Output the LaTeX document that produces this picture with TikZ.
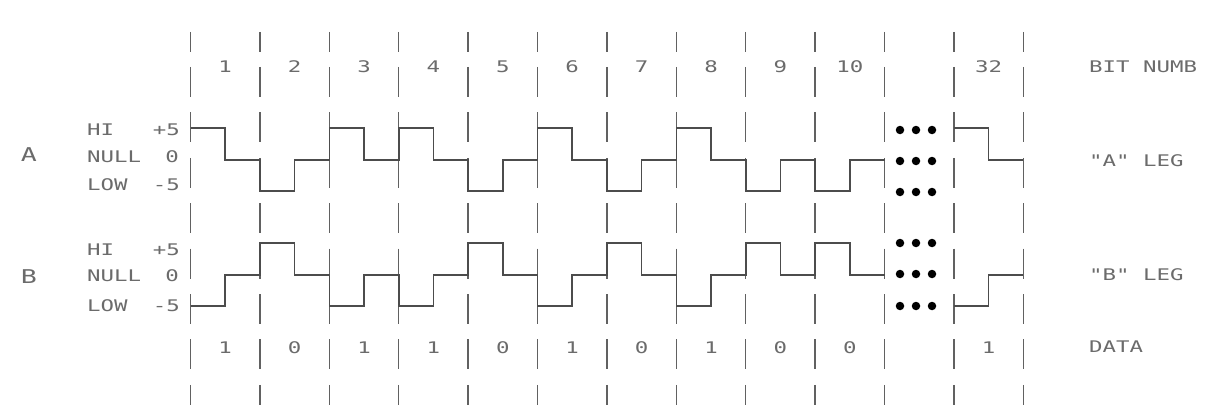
\documentclass[tikz,border=0pt]{standalone}
\usepackage{fontspec}
\newfontfamily\cad[FakeStretch=1.4]{DejaVu Sans Mono}
\definecolor{txt}{gray}{0.42}
\definecolor{wav}{gray}{0.3}
\definecolor{grd}{gray}{0.38}
\begin{document}
\begin{tikzpicture}[x=1pt,y=-1pt,
  lbl/.style={inner sep=0pt,text=txt,font=\cad\fontsize{16}{16}\selectfont},
  big/.style={inner sep=0pt,text=txt,font=\cad\fontsize{19}{19}\selectfont},
  gridline/.style={draw=grd,line width=1.3pt,dash pattern=on 30pt off 15.4pt,dash phase=10.4pt},
  wave/.style={draw=wav,line width=1.6pt,line join=miter},
  dot/.style={circle,fill=black,inner sep=0pt,minimum size=8.5pt}]
\useasboundingbox (0,0) rectangle (1210,412);
% grid lines
\foreach \k in {0,...,12}{
  \coordinate (gt\k) at ({190.5+69.4*\k},32);
  \coordinate (gb\k) at ({190.5+69.4*\k},405);
  \draw[gridline] (gt\k) -- (gb\k);
}
% bit numbers
\foreach \n [count=\k from 0] in {1,2,3,4,5,6,7,8,9,10}{
  \node[lbl] (bn\k) at ({225.2+69.4*\k},67) {\n};
}
\node[lbl] (bn11) at (988.6,67) {32};
% data
\foreach \n [count=\k from 0] in {1,0,1,1,0,1,0,1,0,0}{
  \node[lbl] (dt\k) at ({225.2+69.4*\k},348) {\n};
}
\node[lbl] (dt11) at (988.6,348) {1};
% left labels
\node[big] (A) at (29,155) {A};
\node[big] (B) at (29,277) {B};
\node[lbl,anchor=west] (hiA) at (87,130) {HI};
\node[lbl,anchor=west] (nuA) at (87,157) {NULL};
\node[lbl,anchor=west] (loA) at (87,185) {LOW};
\node[lbl,anchor=east] (phA) at (180,130) {+5};
\node[lbl,anchor=east] (zA) at (179,157) {0};
\node[lbl,anchor=east] (mA) at (180,185) {-5};
\node[lbl,anchor=west] (hiB) at (87,250) {HI};
\node[lbl,anchor=west] (nuB) at (87,276) {NULL};
\node[lbl,anchor=west] (loB) at (87,306) {LOW};
\node[lbl,anchor=east] (phB) at (180,250) {+5};
\node[lbl,anchor=east] (zB) at (179,276) {0};
\node[lbl,anchor=east] (mB) at (180,306) {-5};
% right labels
\node[lbl,anchor=west] (bitnumb) at (1089,67) {BIT NUMB};
\node[lbl,anchor=west] (aleg) at (1089,161) {"A" LEG};
\node[lbl,anchor=west] (bleg) at (1089,275) {"B" LEG};
\node[lbl,anchor=west] (data) at (1089,347) {DATA};
% waveform A
\draw[wave] (190.5,128) -- (225.2,128) -- (225.2,160) -- (259.9,160) -- (259.9,191) -- (294.6,191) -- (294.6,160) -- (329.3,160) -- (329.3,128) -- (364.0,128) -- (364.0,160) -- (398.7,160) -- (398.7,128) -- (433.4,128) -- (433.4,160) -- (468.1,160) -- (468.1,191) -- (502.8,191) -- (502.8,160) -- (537.5,160) -- (537.5,128) -- (572.2,128) -- (572.2,160) -- (606.9,160) -- (606.9,191) -- (641.6,191) -- (641.6,160) -- (676.3,160) -- (676.3,128) -- (711.0,128) -- (711.0,160) -- (745.7,160) -- (745.7,191) -- (780.4,191) -- (780.4,160) -- (815.1,160) -- (815.1,191) -- (849.8,191) -- (849.8,160) -- (884.5,160);
\draw[wave] (953.9,128) -- (988.6,128) -- (988.6,160) -- (1023.3,160);
% waveform B
\draw[wave] (190.5,306) -- (225.2,306) -- (225.2,275) -- (259.9,275) -- (259.9,243) -- (294.6,243) -- (294.6,275) -- (329.3,275) -- (329.3,306) -- (364.0,306) -- (364.0,275) -- (398.7,275) -- (398.7,306) -- (433.4,306) -- (433.4,275) -- (468.1,275) -- (468.1,243) -- (502.8,243) -- (502.8,275) -- (537.5,275) -- (537.5,306) -- (572.2,306) -- (572.2,275) -- (606.9,275) -- (606.9,243) -- (641.6,243) -- (641.6,275) -- (676.3,275) -- (676.3,306) -- (711.0,306) -- (711.0,275) -- (745.7,275) -- (745.7,243) -- (780.4,243) -- (780.4,275) -- (815.1,275) -- (815.1,243) -- (849.8,243) -- (849.8,275) -- (884.5,275);
\draw[wave] (953.9,306) -- (988.6,306) -- (988.6,275) -- (1023.3,275);
% ellipsis dots
\foreach \y [count=\r] in {130,161,192,243,274,306}{
  \foreach \x [count=\c] in {900,916,932}{
    \node[dot] (dot\r\c) at (\x,\y) {};
  }
}
\end{tikzpicture}
\end{document}
